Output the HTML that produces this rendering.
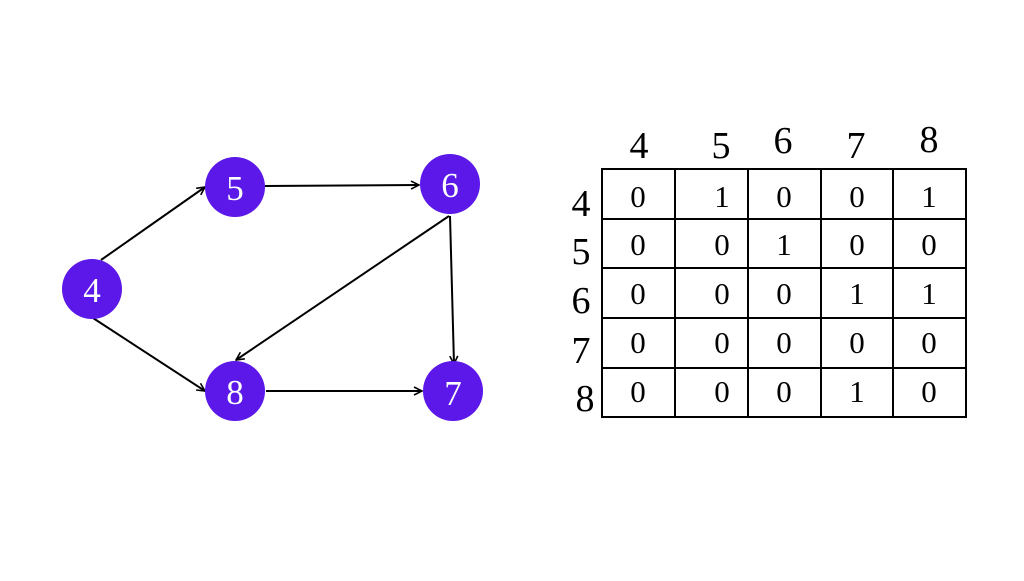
<!DOCTYPE html>
<html><head><style>body{margin:0;background:#fff}</style></head><body>
<svg width="1024" height="576" viewBox="0 0 1024 576" xmlns="http://www.w3.org/2000/svg">
<defs><marker id="a" markerWidth="10" markerHeight="10" refX="9" refY="5" orient="auto" markerUnits="userSpaceOnUse"><path d="M1,1 L9,5 L1,9" fill="none" stroke="#000" stroke-width="1.6"/></marker></defs>
<g stroke="#000" stroke-width="2" fill="none" marker-end="url(#a)">
<line x1="101" y1="260" x2="205" y2="187"/>
<line x1="93" y1="318" x2="205" y2="391"/>
<line x1="265" y1="186" x2="419" y2="185"/>
<line x1="266" y1="391" x2="422" y2="391"/>
<line x1="449" y1="216" x2="236" y2="360"/>
<line x1="450" y1="216" x2="454" y2="364"/>
</g>
<g fill="#5b18e8">
<circle cx="92" cy="289" r="30"/><circle cx="235" cy="187" r="30"/><circle cx="450" cy="184" r="30"/>
<circle cx="235" cy="391" r="30"/><circle cx="453" cy="391" r="30"/>
</g>
<g fill="#fff" font-family="Liberation Serif, serif" font-size="35" text-anchor="middle">
<text x="92" y="302">4</text><text x="235" y="200">5</text><text x="450" y="197">6</text>
<text x="235" y="404">8</text><text x="453" y="405">7</text>
</g>
<g stroke="#000" stroke-width="2" fill="none">
<rect x="602" y="169" width="364" height="248"/>
<line x1="675" y1="169" x2="675" y2="417"/><line x1="748" y1="169" x2="748" y2="417"/>
<line x1="821" y1="169" x2="821" y2="417"/><line x1="893" y1="169" x2="893" y2="417"/>
<line x1="602" y1="219" x2="966" y2="219"/><line x1="602" y1="268" x2="966" y2="268"/>
<line x1="602" y1="318" x2="966" y2="318"/><line x1="602" y1="368" x2="966" y2="368"/>
</g>
<g font-family="Liberation Serif, serif" font-size="38" text-anchor="middle" fill="#000">
<text x="639" y="158">4</text><text x="721" y="158">5</text><text x="783" y="153">6</text><text x="856" y="158">7</text><text x="929" y="152">8</text>
<text x="581" y="216">4</text><text x="581" y="264">5</text><text x="581" y="313">6</text><text x="581" y="363">7</text><text x="585" y="411">8</text>
</g>
<g font-family="Liberation Serif, serif" font-size="31" text-anchor="middle" fill="#000">
<text x="638" y="207">0</text><text x="722" y="207">1</text><text x="784" y="207">0</text><text x="857" y="207">0</text><text x="929" y="207">1</text>
<text x="638" y="255">0</text><text x="722" y="255">0</text><text x="784" y="255">1</text><text x="857" y="255">0</text><text x="929" y="255">0</text>
<text x="638" y="304">0</text><text x="722" y="304">0</text><text x="784" y="304">0</text><text x="857" y="304">1</text><text x="929" y="304">1</text>
<text x="638" y="353">0</text><text x="722" y="353">0</text><text x="784" y="353">0</text><text x="857" y="353">0</text><text x="929" y="353">0</text>
<text x="638" y="402">0</text><text x="722" y="402">0</text><text x="784" y="402">0</text><text x="857" y="402">1</text><text x="929" y="402">0</text>
</g>
</svg>
</body></html>
